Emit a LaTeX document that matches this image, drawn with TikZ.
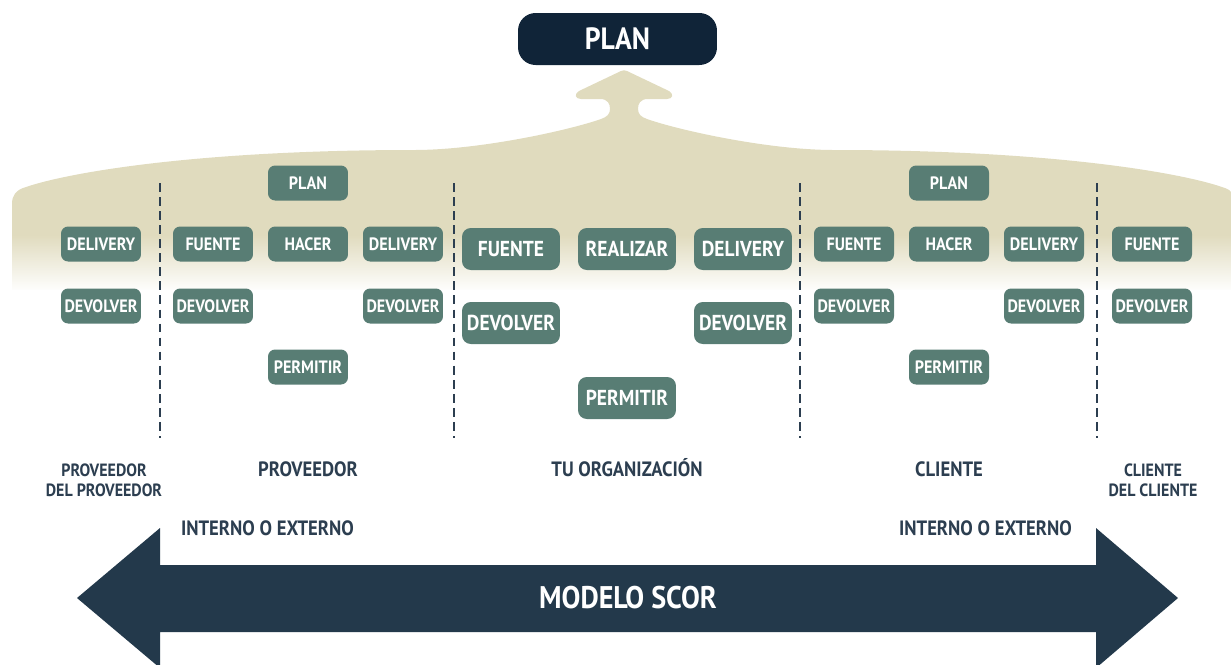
\documentclass[tikz,border=0pt]{standalone}
\usepackage{fontspec}
\setmainfont{PT Sans}[FakeStretch=0.9]

\definecolor{scorbeige}{RGB}{224,219,190}
\definecolor{scorgreen}{RGB}{88,125,116}
\definecolor{scornavy}{RGB}{16,36,56}
\definecolor{scorarrow}{RGB}{35,57,75}
\definecolor{scortext}{RGB}{44,62,80}

\tikzset{
	procbox/.style={fill=scorgreen, rounded corners=4pt, inner sep=0pt, text=white,
		minimum width=1.6cm, minimum height=0.7cm,
		font=\bfseries\fontsize{10.2}{10.5}\selectfont},
	bigbox/.style={procbox, minimum width=1.96cm, minimum height=0.84cm, rounded corners=5pt,
		font=\bfseries\fontsize{12.3}{13}\selectfont},
	tierlabel/.style={text=scortext, inner sep=0pt, text height=8.2pt, text depth=0pt,
		font=\bfseries\fontsize{11.8}{14}\selectfont},
	outerlabel/.style={text=scortext, inner sep=0pt, align=center,
		font=\bfseries\fontsize{10.1}{11.3}\selectfont},
	tierline/.style={scortext, line width=1.1pt, dash pattern=on 5pt off 3pt}
}

\begin{document}
\begin{tikzpicture}[x=0.02cm,y=-0.02cm]
	
	\pgfmathsetmacro{\cx}{624}
	
	\useasboundingbox (0,0) rectangle (1231,664);
	
	% beige cloud, rising into the arrow below the top plan
	\begin{scope}
		\clip (\cx-612,290) -- (\cx-612,204) .. controls (\cx-612,195) and (\cx-608,190) .. (\cx-598,187)
			.. controls (\cx-554,172) and (\cx-424,150) .. (\cx-210,150)
			.. controls (\cx-144,150) and (\cx-54,130) .. (\cx-23,119)
			.. controls (\cx-17,117) and (\cx-14,114) .. (\cx-14,109)
			.. controls (\cx-14,104) and (\cx-16,99) .. (\cx-24,99)
			-- (\cx-43,99) .. controls (\cx-49,99) and (\cx-50,94) .. (\cx-45,91)
			-- (\cx-3,71) .. controls (\cx-1,70) and (\cx+1,70) .. (\cx+3,71)
			-- (\cx+45,91) .. controls (\cx+50,94) and (\cx+49,99) .. (\cx+43,99)
			-- (\cx+24,99) .. controls (\cx+16,99) and (\cx+14,104) .. (\cx+14,109)
			.. controls (\cx+14,114) and (\cx+17,117) .. (\cx+23,119)
			.. controls (\cx+54,130) and (\cx+144,150) .. (\cx+210,150)
			.. controls (\cx+424,150) and (\cx+554,172) .. (\cx+598,187)
			.. controls (\cx+608,190) and (\cx+612,195) .. (\cx+612,204)
			-- (\cx+612,290) -- cycle;
		\fill[scorbeige] (0,0) rectangle (1240,236);
		\shade[top color=scorbeige, bottom color=white] (0,235) rectangle (1240,292);
	\end{scope}
	
	% top plan
	\node[fill=scornavy, rounded corners=10pt, text=white, minimum width=3.98cm, minimum height=1.04cm,
		font=\bfseries\fontsize{17.5}{18}\selectfont] (plan) at (617.5,39) {PLAN};
	
	% tier separators
	\draw[tierline] (160,183) -- (160,438)
					(454,183) -- (454,438)
					(800,183) -- (800,438)
					(1097,183) -- (1097,438);
	
	% proveedor del proveedor
	\node[procbox] (sDelivery) at (101,244) {DELIVERY};
	\node[procbox] (sDevolver) at (101,306) {DEVOLVER};
	
	% proveedor
	\node[procbox] (pPlan) at (308,183) {PLAN};
	\node[procbox] (pFuente) at (213,244) {FUENTE};
	\node[procbox] (pHacer) at (308,244) {HACER};
	\node[procbox] (pDelivery) at (403,244) {DELIVERY};
	\node[procbox] (pDevolverA) at (213,306) {DEVOLVER};
	\node[procbox] (pDevolverB) at (403,306) {DEVOLVER};
	\node[procbox] (pPermitir) at (308,367) {PERMITIR};
	
	% tu organizacion
	\node[bigbox] (oFuente) at (511,249) {FUENTE};
	\node[bigbox] (oRealizar) at (627,249) {REALIZAR};
	\node[bigbox] (oDelivery) at (743,249) {DELIVERY};
	\node[bigbox] (oDevolverA) at (511,323) {DEVOLVER};
	\node[bigbox] (oDevolverB) at (743,323) {DEVOLVER};
	\node[bigbox] (oPermitir) at (627,398) {PERMITIR};
	
	% cliente
	\node[procbox] (cPlan) at (949,183) {PLAN};
	\node[procbox] (cFuente) at (854,244) {FUENTE};
	\node[procbox] (cHacer) at (949,244) {HACER};
	\node[procbox] (cDelivery) at (1044,244) {DELIVERY};
	\node[procbox] (cDevolverA) at (854,306) {DEVOLVER};
	\node[procbox] (cDevolverB) at (1044,306) {DEVOLVER};
	\node[procbox] (cPermitir) at (949,367) {PERMITIR};
	
	% cliente del cliente
	\node[procbox] (kFuente) at (1152,244) {FUENTE};
	\node[procbox] (kDevolver) at (1152,306) {DEVOLVER};
	
	% tier names
	\node[outerlabel] (sName) at (104,480) {PROVEEDOR\\DEL PROVEEDOR};
	\node[tierlabel] (pName) at (308,469) {PROVEEDOR};
	\node[tierlabel] (oName) at (627,469) {TU ORGANIZACIÓN};
	\node[tierlabel] (cName) at (949,469) {CLIENTE};
	\node[outerlabel] (kName) at (1153,480) {CLIENTE\\DEL CLIENTE};
	
	\node[tierlabel] (pScope) at (267.5,528) {INTERNO O EXTERNO};
	\node[tierlabel] (cScope) at (985.5,528) {INTERNO O EXTERNO};
	
	% double arrow
	\fill[scorarrow] (77,598) -- (160,528) -- (160,565) -- (1096,565) -- (1096,528) -- (1178,598)
		-- (1096,668) -- (1096,632) -- (160,632) -- (160,668) -- cycle;
	\node[text=white, font=\bfseries\fontsize{17.8}{20}\selectfont] (scor) at (628,598) {MODELO SCOR};
	
\end{tikzpicture}
\end{document}
